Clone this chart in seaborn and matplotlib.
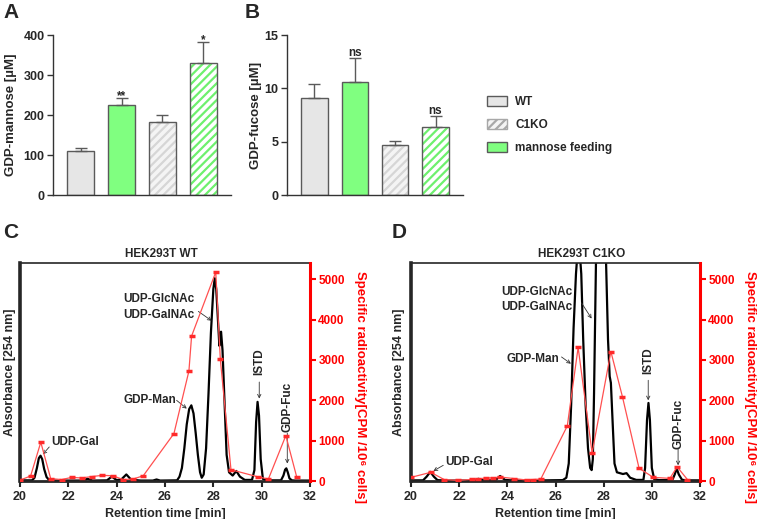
import numpy as np
import pandas as pd
import matplotlib
matplotlib.use("Agg")
import matplotlib.pyplot as plt
from matplotlib.patches import Patch, Rectangle
import seaborn as sns

# ---- bar data (panels A, B) ----
groups = ["WT", "mannose feeding", "C1KO", "C1KO mannose feeding"]
gdp_man = [110, 224, 183, 329]
gdp_man_err = [8, 18, 16, 53]
man_sig = ["", "**", "", "*"]
gdp_fuc = [9.12, 10.6, 4.69, 6.34]
gdp_fuc_err = [1.3, 2.2, 0.4, 1.06]
fuc_sig = ["", "ns", "", "ns"]

# ---- HPLC traces (panels C, D); absorbance in % of axis height ----
wt_time = [20.0, 20.5, 20.6, 20.7, 20.78, 20.85, 20.92, 21.0, 21.1, 21.2, 21.4,
           22.6, 22.8, 23.0, 23.6, 23.8, 24.0, 24.2, 24.4, 24.6, 25.0, 25.5, 25.65, 25.8,
           26.5, 26.6, 26.7, 26.8, 26.9, 27.0, 27.09, 27.18, 27.27, 27.36, 27.45, 27.52,
           27.6, 27.7, 27.8, 27.9, 28.0, 28.06, 28.12, 28.2, 28.25, 28.27, 28.32, 28.38, 28.45, 28.55, 28.65,
           28.8, 28.95, 29.1, 29.3, 29.6, 29.7, 29.77, 29.83, 29.89, 29.96, 30.05, 30.2,
           30.8, 30.9, 30.97, 31.02, 31.08, 31.15, 31.25, 31.4, 32.0]
wt_abs = [0.3, 0.3, 1.5, 6, 10.5, 11.6, 10, 5.5, 1.8, 0.5, 0.2,
          0.2, 1.0, 0.2, 0.3, 2.0, 0.4, 0.8, 3.0, 0.6, 0.2, 0.2, 0.7, 0.2,
          0.3, 2, 6, 15, 26, 33, 34.7, 31, 22, 12, 4, 1.5,
          3, 15, 40, 68, 88, 93, 88, 72, 62, 67, 68.5, 60, 40, 12, 4,
          2.5, 4.6, 2, 0.5, 0.5, 5, 27, 36.3, 30, 10, 1, 0.3,
          0.3, 2.5, 5.2, 5.8, 4, 1.2, 0.3, 0.2, 0.2]
wt_rad_time = [20.0, 20.44, 20.86, 21.27, 21.72, 22.14, 22.55, 22.97, 23.41, 23.83, 24.28, 24.69,
               25.1, 26.37, 26.99, 27.1, 28.1, 28.29, 28.73, 29.86, 30.28, 31.0, 31.45]
wt_rad = [20, 125, 960, 60, 35, 90, 75, 110, 140, 130, 35, 50,
          130, 1175, 2725, 3590, 5175, 3010, 280, 100, 50, 1125, 100]

ko_time = [20.0, 20.5, 20.65, 20.8, 20.95, 21.1, 21.5,
           22.6, 22.8, 23.0, 23.5, 23.7, 23.9, 24.15, 24.3, 24.45, 25.6,
           26.3, 26.45, 26.55, 26.65, 26.75, 26.85, 26.96, 27.07, 27.15, 27.25, 27.35, 27.44, 27.5,
           27.55, 27.6, 27.68, 27.8, 27.9, 28.0, 28.1, 28.18, 28.25, 28.3, 28.38, 28.45, 28.55,
           28.8, 28.95, 29.1, 29.35, 29.65, 29.72, 29.8, 29.86, 29.92, 30.0, 30.1, 30.3,
           30.85, 30.95, 31.03, 31.12, 31.25, 31.4, 32.0]
ko_abs = [0.3, 0.3, 2, 4.2, 2, 0.4, 0.2,
          0.2, 1.0, 0.3, 0.3, 2.3, 0.5, 0.3, 0.9, 0.2, 0.3,
          0.4, 1.5, 8, 35, 70, 95, 112, 95, 65, 35, 15, 6, 5,
          10, 40, 100, 150, 165, 150, 100, 65, 48, 45, 25, 8, 4,
          3.2, 3.6, 1.5, 0.5, 0.5, 6, 28, 35.8, 28, 6, 0.8, 0.4,
          0.4, 3, 5.7, 3, 0.6, 0.3, 0.3]
ko_rad_time = [20.0, 20.82, 21.38, 21.96, 22.52, 22.79, 23.1, 23.42, 23.69, 24.27, 24.8, 25.05,
               25.39, 26.49, 26.94, 27.52, 28.3, 28.78, 29.47, 30.06, 30.75, 31.05, 31.48]
ko_rad = [90, 215, 35, 15, 40, 50, 75, 75, 100, 60, 25, 35,
          50, 1365, 3310, 695, 3205, 2085, 315, 90, 65, 350, 35]

bar_fill = {"WT": "#e6e6e6", "mannose feeding": "#80ff80",
            "C1KO": "#f4f4f4", "C1KO mannose feeding": "#ffffff"}
bar_hatch = {"C1KO": "#d6d6d6", "C1KO mannose feeding": "#6ef06e"}
bar_edge = "#5a5a5a"
red = "#ff0000"

sns.set_style("ticks")
plt.rcParams["font.family"] = ["Liberation Sans", "DejaVu Sans"]
plt.rcParams["font.weight"] = "bold"
plt.rcParams["axes.labelweight"] = "bold"
plt.rcParams["hatch.linewidth"] = 1.6

W, H = 759, 519
fig = plt.figure(figsize=(W / 100, H / 100), dpi=100)


def px_axes(left, top, right, bottom):
    return fig.add_axes([left / W, 1 - bottom / H, (right - left) / W, (bottom - top) / H])


def bar_panel(ax, values, errors, sig, sig_dy, ymax, step, ylabel, label_x):
    df = pd.DataFrame({"group": groups, "value": values})
    sns.barplot(data=df, x="group", y="value", hue="group", order=groups, hue_order=groups,
                palette=bar_fill, saturation=1, width=0.65, errorbar=None, legend=False,
                edgecolor=bar_edge, linewidth=1, ax=ax)
    bars = sorted(ax.patches, key=lambda p: p.get_x())
    for name, bar in zip(groups, bars):
        if name in bar_hatch:
            bar.set_hatch("////")
            bar.set_edgecolor(bar_hatch[name])
            bar.set_linewidth(0)
            ax.add_patch(Rectangle(bar.get_xy(), bar.get_width(), bar.get_height(), fill=False,
                                   edgecolor=bar_edge, lw=1, zorder=bar.get_zorder() + 0.1))
    pos = np.arange(len(groups))
    ax.errorbar(pos, values, yerr=[np.zeros(len(values)), errors], fmt="none", ecolor=bar_edge,
                elinewidth=1, capsize=4, capthick=1, zorder=3)
    for x, v, e, s in zip(pos, values, errors, sig):
        if s:
            ax.annotate(s, xy=(x, v + e), xytext=(0, sig_dy[s]), textcoords="offset points",
                        ha="center", va="baseline", fontsize=8.5)
    ax.set_xlim(-0.68, 3.68)
    ax.set_ylim(0, ymax)
    ax.set_yticks(np.arange(0, ymax + 1, step))
    ax.set_xticks([])
    ax.set_xlabel("")
    ax.set_ylabel(ylabel, fontsize=9.5)
    ax.yaxis.set_label_coords(label_x, 0.5)
    sns.despine(ax=ax)
    for sp in ["left", "bottom"]:
        ax.spines[sp].set_color("#333333")
        ax.spines[sp].set_linewidth(1)
    ax.tick_params(axis="y", labelsize=9, length=4, width=1, color="#333333", pad=2)


axA = px_axes(53, 35, 231, 195)
bar_panel(axA, gdp_man, gdp_man_err, man_sig, {"**": -0.5, "*": -0.5}, 400, 100,
          "GDP-mannose [µM]", -0.205)
axB = px_axes(287, 35, 463, 195)
bar_panel(axB, gdp_fuc, gdp_fuc_err, fuc_sig, {"ns": 1.5}, 15, 5,
          "GDP-fucose [µM]", -0.14)

handles = [Patch(facecolor=bar_fill["WT"], edgecolor=bar_edge, label="WT"),
           Patch(facecolor=bar_fill["C1KO"], edgecolor="#a8a8a8", hatch="////", label="C1KO"),
           Patch(facecolor=bar_fill["mannose feeding"], edgecolor=bar_edge, label="mannose feeding")]
fig.legend(handles=handles, loc="upper left", bbox_to_anchor=(487 / W, 1 - 96 / H),
           frameon=False, fontsize=8.5, handlelength=1.7, handleheight=0.9,
           handletextpad=0.7, labelspacing=0.95, borderpad=0, borderaxespad=0)


def arrow(ax, start, end):
    ax.annotate("", xy=end, xytext=start,
                arrowprops=dict(arrowstyle="->", lw=0.6, color="#333333",
                                mutation_scale=6, shrinkA=0, shrinkB=0))


def chromatogram(ax, t, a, rt, rad, title, title_x, notes, left_x, right_x):
    sns.lineplot(x=t, y=a, ax=ax, color="black", lw=1.6, estimator=None, sort=False)
    ax.set_xlim(20, 32)
    ax.set_ylim(0, 100)
    ax.set_yticks([])
    ax.set_xticks(range(20, 33, 2))
    ax.tick_params(axis="x", labelsize=9, length=4, width=1.5)
    ax.set_xlabel("Retention time [min]", fontsize=9)
    ax.xaxis.set_label_coords(0.5, -0.125)
    ax.set_ylabel("Absorbance [254 nm]", fontsize=9)
    ax.yaxis.set_label_coords(left_x, 0.5)
    ax.spines["left"].set_linewidth(2.6)
    ax.spines["bottom"].set_linewidth(2)
    ax.spines["top"].set_linewidth(1.2)
    ax.spines["right"].set_visible(False)

    ax2 = ax.twinx()
    sns.lineplot(x=rt, y=rad, ax=ax2, color="#ff5050", lw=0.9, marker="_", ms=5, mew=2.5,
                 mec="#ff2a2a", estimator=None, sort=False)
    ax2.set_ylim(0, 5400)
    ax2.set_yticks(range(0, 5001, 1000))
    ax2.tick_params(axis="y", colors=red, labelsize=8.5, length=4, width=1.5, pad=2)
    for sp in ["left", "top", "bottom"]:
        ax2.spines[sp].set_visible(False)
    ax2.spines["right"].set_color(red)
    ax2.spines["right"].set_linewidth(2.2)
    ax2.set_ylabel("Specific radioactivity[CPM /10⁶ cells]", color=red, fontsize=9.5,
                   rotation=270, va="bottom")
    ax2.yaxis.set_label_coords(right_x, 0.43)

    ax.text(title_x, 1.043, title, transform=ax.transAxes, ha="center", va="center", fontsize=8.5)
    for text, pos, rot, start, end in notes:
        ax.text(pos[0], pos[1], text, rotation=rot, fontsize=8.5,
                ha="left" if rot == 0 else "center", va="center", linespacing=1.35)
        arrow(ax, start, end)


axC = px_axes(20, 263, 310, 481)
chromatogram(axC, wt_time, wt_abs, wt_rad_time, wt_rad, "HEK293T WT", 0.486, [
    ("UDP-Gal", (21.31, 17.9), 0, (21.21, 15.6), (20.94, 12.2)),
    ("UDP-GlcNAc\nUDP-GalNAc", (24.27, 79.8), 0, (27.38, 77.8), (27.93, 73.5)),
    ("GDP-Man", (24.3, 37.3), 0, (26.48, 37.0), (26.9, 33.2)),
    ("ISTD", (29.9, 54.6), 90, (29.9, 45.4), (29.9, 37.8)),
    ("GDP-Fuc", (31.06, 33.9), 90, (31.06, 22.0), (31.06, 8.0)),
], -0.015, 1.152)

axD = px_axes(411, 263, 700, 481)
chromatogram(axD, ko_time, ko_abs, ko_rad_time, ko_rad, "HEK293T C1KO", 0.59, [
    ("UDP-Gal", (21.41, 8.7), 0, (21.34, 7.2), (20.93, 4.6)),
    ("UDP-GlcNAc\nUDP-GalNAc", (23.73, 83.2), 0, (27.08, 81.7), (27.5, 74.5)),
    ("GDP-Man", (23.97, 56.1), 0, (26.25, 56.9), (26.64, 53.8)),
    ("ISTD", (29.85, 55.4), 90, (29.85, 46.2), (29.85, 37.0)),
    ("GDP-Fuc", (31.09, 26.3), 90, (31.09, 14.8), (31.09, 7.2)),
], -0.02, 1.153)

for letter, x, y in [("A", 3, 12), ("B", 245, 12), ("C", 3, 233), ("D", 392, 233)]:
    fig.text(x / W, 1 - y / H, letter, fontsize=15, ha="left", va="center")

fig.savefig("out.png", dpi=100)
